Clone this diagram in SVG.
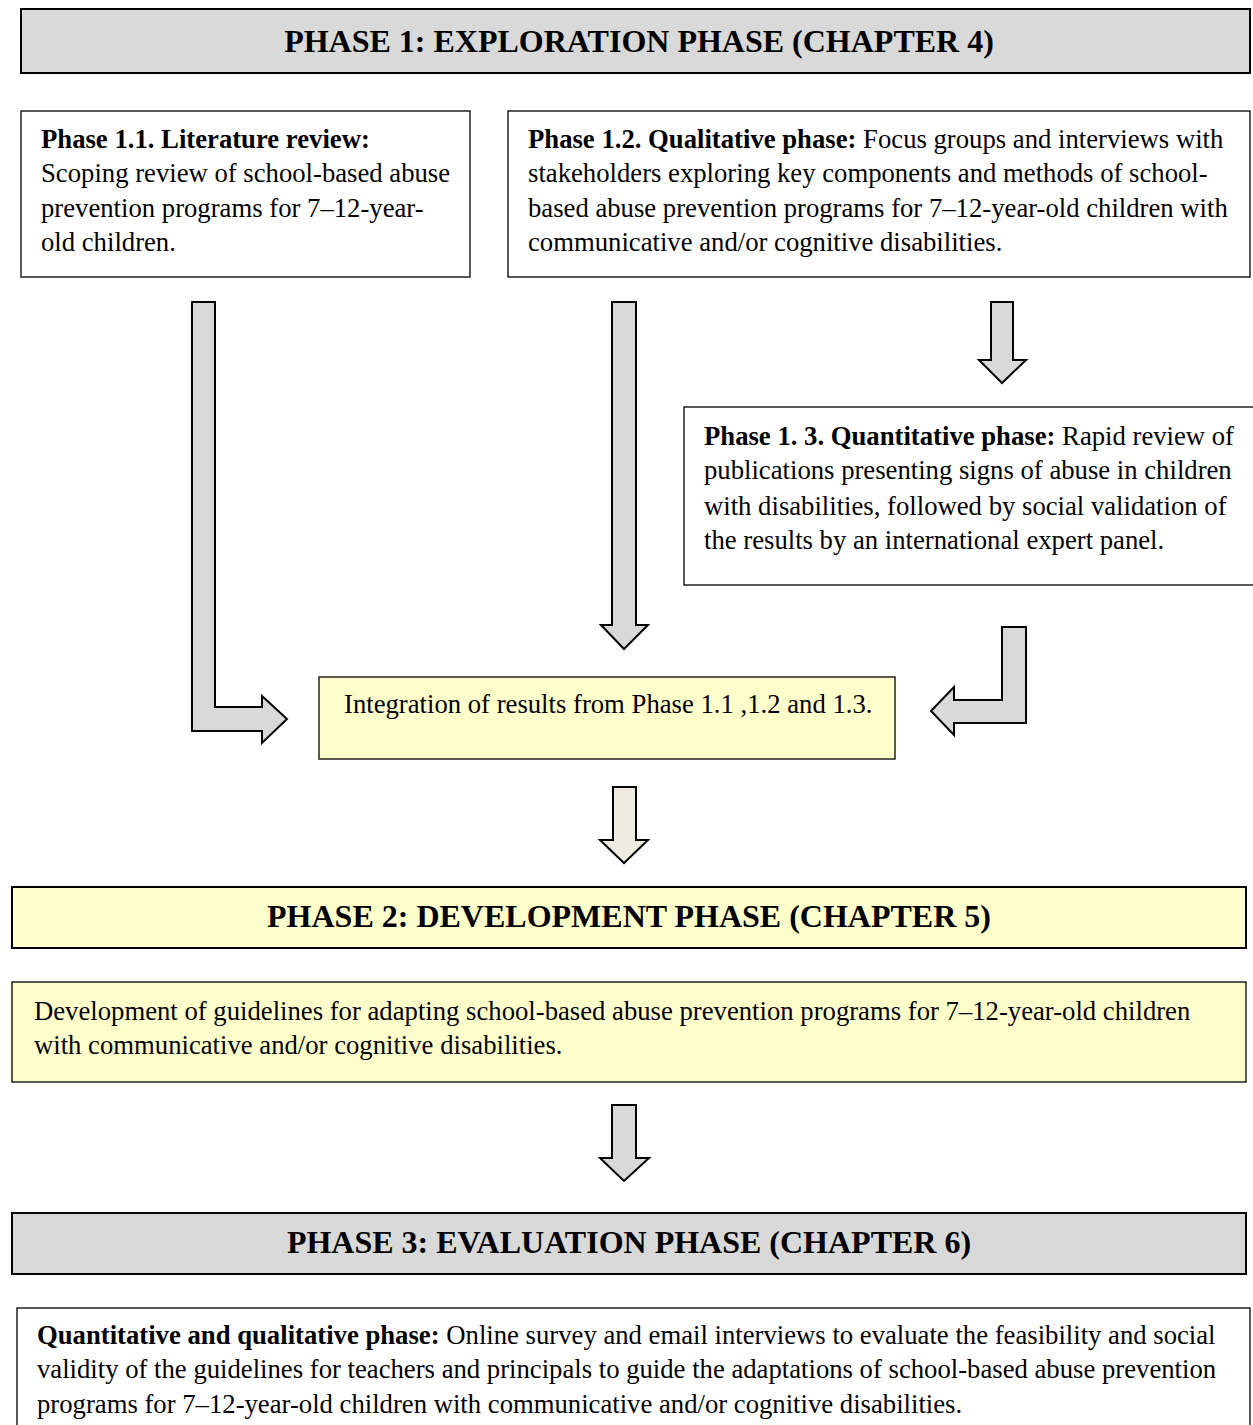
<svg xmlns="http://www.w3.org/2000/svg" width="1253" height="1425" viewBox="0 0 1253 1425">
<style>
.hdr{stroke:#000;stroke-width:2}
.box{fill:#fff;stroke:#000;stroke-width:1.3}
.gray{fill:#d9d9d9}
.yel{fill:#ffffcc}
.arr{fill:#d9d9d9;stroke:#000;stroke-width:2;stroke-linejoin:miter}
text{font-family:"Liberation Serif","Times New Roman",serif;fill:#000}
.ht{font-size:32px;font-weight:bold;text-anchor:middle}
.bt{font-size:26.7px}
.b{font-weight:bold}
</style>
<rect width="1253" height="1425" fill="#fff"/>
<g id="phase1-header">
<rect class="hdr gray" x="21" y="9" width="1229" height="64"/>
<text class="ht" x="639" y="52">PHASE 1: EXPLORATION PHASE (CHAPTER 4)</text>
</g>
<g id="phase1-1">
<rect class="box" x="21" y="111" width="449" height="166"/>
<text class="bt" x="41" y="148"><tspan class="b">Phase 1.1. Literature review:</tspan></text>
<text class="bt" x="41" y="182">Scoping review of school-based abuse</text>
<text class="bt" x="41" y="217">prevention programs for 7–12-year-</text>
<text class="bt" x="41" y="251">old children.</text>
</g>
<g id="phase1-2">
<rect class="box" x="508" y="111" width="742" height="166"/>
<text class="bt" x="528" y="148"><tspan class="b">Phase 1.2. Qualitative phase:</tspan> Focus groups and interviews with</text>
<text class="bt" x="528" y="182">stakeholders exploring key components and methods of school-</text>
<text class="bt" x="528" y="217">based abuse prevention programs for 7–12-year-old children with</text>
<text class="bt" x="528" y="251">communicative and/or cognitive disabilities.</text>
</g>
<g id="phase1-3">
<rect class="box" x="684" y="407" width="580" height="178"/>
<text class="bt" x="704" y="445"><tspan class="b">Phase 1. 3. Quantitative phase:</tspan> Rapid review of</text>
<text class="bt" x="704" y="479">publications presenting signs of abuse in children</text>
<text class="bt" x="704" y="515">with disabilities, followed by social validation of</text>
<text class="bt" x="704" y="549">the results by an international expert panel.</text>
</g>
<g id="integration">
<rect class="box yel" x="319" y="677" width="576" height="82"/>
<text class="bt" x="344" y="713">Integration of results from Phase 1.1 ,1.2 and 1.3.</text>
</g>
<g id="phase2-header">
<rect class="hdr yel" x="12" y="887" width="1234" height="61"/>
<text class="ht" x="629" y="927">PHASE 2: DEVELOPMENT PHASE (CHAPTER 5)</text>
</g>
<g id="phase2-body">
<rect class="box yel" x="12" y="982" width="1234" height="100"/>
<text class="bt" x="34" y="1020">Development of guidelines for adapting school-based abuse prevention programs for 7–12-year-old children</text>
<text class="bt" x="34" y="1054">with communicative and/or cognitive disabilities.</text>
</g>
<g id="phase3-header">
<rect class="hdr gray" x="12" y="1213" width="1234" height="61"/>
<text class="ht" x="629" y="1253">PHASE 3: EVALUATION PHASE (CHAPTER 6)</text>
</g>
<g id="phase3-body">
<rect class="box" x="17" y="1308" width="1233" height="130"/>
<text class="bt" x="37" y="1344"><tspan class="b">Quantitative and qualitative phase:</tspan> Online survey and email interviews to evaluate the feasibility and social</text>
<text class="bt" x="37" y="1378">validity of the guidelines for teachers and principals to guide the adaptations of school-based abuse prevention</text>
<text class="bt" x="37" y="1413">programs for 7–12-year-old children with communicative and/or cognitive disabilities.</text>
</g>
<g id="connectors">
<polygon class="arr" points="192,302 215,302 215,707 262,707 262,696 287,719 262,743 262,731 192,731"/>
<polygon class="arr" points="612,302 636,302 636,625 648,625 624,649 601,625 612,625"/>
<polygon class="arr" points="991,302 1013,302 1013,360 1026,360 1002,383 979,360 991,360"/>
<polygon class="arr" points="1002,627 1026,627 1026,723 954,723 954,735 931,711 954,687 954,700 1002,700"/>
<polygon class="arr" points="613,787 636,787 636,840 648,840 624,863 600,840 613,840" style="fill:#eeece1"/>
<polygon class="arr" points="612,1105 636,1105 636,1158 649,1158 624,1181 600,1158 612,1158"/>
</g>
</svg>
